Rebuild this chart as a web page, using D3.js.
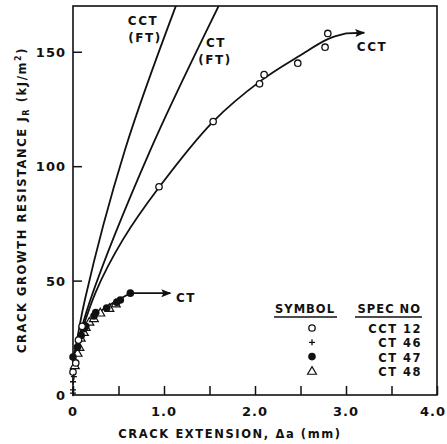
<!DOCTYPE html>
<html lang="en">
<head>
<meta charset="UTF-8">
<title>J-R curves</title>
<script src="https://cdn.jsdelivr.net/npm/d3@7"></script>
<style>
    body { margin: 0; background: white; }
    text { font-family: "DejaVu Sans", sans-serif; font-weight: bold; fill: #111; }
</style>
</head>
<body>
<svg id="chart" width="447" height="444"></svg>
<script>
// ---- data ----
const xTicks = [0, 1.0, 2.0, 3.0, 4.0];
const xMinorTicks = [0.5, 1.5, 2.5, 3.5];
const yTicks = [0, 50, 100, 150];

// fitted / blunting lines (crack extension mm, J kJ/m2)
const cctFT = [[0.02, 18], [0.13, 41.5], [0.57, 107], [1.13, 170], [1.25, 182]];
const ctFT = [[0.02, 18], [0.19, 41.5], [0.85, 107], [1.6, 170], [1.75, 182]];
const cctCurve = [[0.02, 18], [0.25, 45], [0.55, 68], [0.95, 91], [1.54, 119.5], [2.07, 137.5], [2.5, 148.5], [2.8, 155.5], [3.0, 158]];
const ctCurve = [[0.0, 17], [0.05, 22], [0.1, 28], [0.2, 33], [0.3, 36.5], [0.45, 40.5], [0.63, 44.5]];
const arrows = [[[3.0, 158], [3.2, 158.3]], [[0.63, 44.5], [1.07, 44.5]]];

// specimens
const cct12 = [[0.0, 10], [0.03, 14], [0.06, 24], [0.1, 30], [0.945, 91], [1.54, 119.5], [2.05, 136], [2.10, 140], [2.47, 145], [2.77, 152], [2.80, 158]];
const ct46 = [[0.0, 0.8], [0.0, 2.2], [0.0, 5.8], [0.01, 8]];
const ct47 = [[0.0, 16.6], [0.05, 21], [0.09, 26], [0.12, 29], [0.14, 30], [0.25, 36], [0.23, 34.5], [0.37, 38], [0.48, 40.5], [0.52, 41.5], [0.63, 44.5]];
const ct48 = [[0.02, 13], [0.05, 18.4], [0.07, 21], [0.085, 25], [0.12, 27.5], [0.14, 29.7], [0.18, 32], [0.23, 33.5], [0.3, 36], [0.4, 38], [0.47, 40]];

const legendSymbols = ["circle", "plus", "dot", "triangle"];
const legendNames = ["CCT 12", "CT 46", "CT 47", "CT 48"];

const svg = d3.select("#chart");
const plotLeft = 73, plotRight = 437, plotTop = 6, plotBottom = 395;

const x = d3.scaleLinear().domain([0, 4]).range([plotLeft, plotRight]);
const y = d3.scaleLinear().domain([0, 170]).range([plotBottom, plotTop]);

const defs = svg.append("defs");
defs.append("clipPath").attr("id", "plotClip")
    .append("rect").attr("x", plotLeft).attr("y", plotTop).attr("width", plotRight - plotLeft).attr("height", plotBottom - plotTop);
defs.append("marker")
    .attr("id", "arrow").attr("viewBox", "0 0 10 10").attr("refX", 9).attr("refY", 5)
    .attr("markerWidth", 14).attr("markerHeight", 10).attr("markerUnits", "userSpaceOnUse")
    .attr("orient", "auto")
    .append("path").attr("d", "M0,1 L10,5 L0,9 L2,5 Z").attr("fill", "#111");

// frame
svg.append("rect").attr("x", plotLeft).attr("y", plotTop).attr("width", plotRight - plotLeft).attr("height", plotBottom - plotTop)
    .attr("fill", "none").attr("stroke", "#111").attr("stroke-width", 1.6);

// axes with inward ticks
const xAxis = svg.append("g").attr("transform", `translate(0,${plotBottom})`)
    .call(d3.axisTop(x).tickValues(xTicks.concat(xMinorTicks)).tickSize(9).tickFormat(""));
xAxis.select(".domain").remove();
xAxis.selectAll("line").attr("stroke", "#111").attr("stroke-width", 1.5);

const yAxis = svg.append("g").attr("transform", `translate(${plotLeft},0)`)
    .call(d3.axisRight(y).tickValues(yTicks.slice(1)).tickSize(9).tickFormat(""));
yAxis.select(".domain").remove();
yAxis.selectAll("line").attr("stroke", "#111").attr("stroke-width", 1.5);

svg.selectAll(".xlab").data(xTicks).join("text")
    .attr("x", (d, i) => i === xTicks.length - 1 ? 446 : x(d)).attr("y", 416)
    .attr("text-anchor", (d, i) => i === xTicks.length - 1 ? "end" : "middle")
    .attr("font-size", 13).attr("letter-spacing", 1)
    .text(d => d === 0 ? "0" : d.toFixed(1));

svg.selectAll(".ylab").data(yTicks).join("text")
    .attr("x", 66).attr("y", d => y(d) + 5).attr("text-anchor", "end")
    .attr("font-size", 13).attr("letter-spacing", 1)
    .text(d => d);

svg.append("text").attr("x", 230).attr("y", 438).attr("text-anchor", "middle")
    .attr("font-size", 11.5).attr("letter-spacing", 1.6)
    .text("CRACK EXTENSION, \u0394a (mm)");

const yTitle = svg.append("text").attr("transform", "translate(26,200) rotate(-90)")
    .attr("text-anchor", "middle").attr("font-size", 11.5).attr("letter-spacing", 1.6);
yTitle.append("tspan").text("CRACK GROWTH RESISTANCE J");
yTitle.append("tspan").attr("font-size", 8).attr("dy", 3).text("R");
yTitle.append("tspan").attr("dy", -3).text(" (kJ/m");
yTitle.append("tspan").attr("font-size", 8).attr("dy", -5).text("2");
yTitle.append("tspan").attr("dy", 5).text(")");

// curves
const line = d3.line().x(d => x(d[0])).y(d => y(d[1])).curve(d3.curveCatmullRom.alpha(0.5));
const plot = svg.append("g").attr("clip-path", "url(#plotClip)");
[cctFT, ctFT, cctCurve, ctCurve].forEach(c => {
    plot.append("path").attr("d", line(c)).attr("fill", "none").attr("stroke", "#111").attr("stroke-width", 1.8);
});
arrows.forEach(a => {
    svg.append("path").attr("d", d3.line().x(d => x(d[0])).y(d => y(d[1]))(a))
        .attr("fill", "none").attr("stroke", "#111").attr("stroke-width", 1.8).attr("marker-end", "url(#arrow)");
});

// symbols
function drawSymbol(g, kind, px, py) {
    if (kind === "circle") {
        g.append("circle").attr("cx", px).attr("cy", py).attr("r", 3.2)
            .attr("fill", "white").attr("stroke", "#111").attr("stroke-width", 1.3);
    } else if (kind === "dot") {
        g.append("circle").attr("cx", px).attr("cy", py).attr("r", 3.8).attr("fill", "#111");
    } else if (kind === "plus") {
        g.append("path").attr("d", `M${px - 3},${py}H${px + 3}M${px},${py - 3}V${py + 3}`)
            .attr("stroke", "#111").attr("stroke-width", 1.3);
    } else {
        g.append("path").attr("d", d3.symbol(d3.symbolTriangle, 34)())
            .attr("transform", `translate(${px},${py + 0.8})`)
            .attr("fill", "white").attr("stroke", "#111").attr("stroke-width", 1.2);
    }
}
const pts = svg.append("g");
ct48.forEach(d => drawSymbol(pts, "triangle", x(d[0]), y(d[1])));
ct47.forEach(d => drawSymbol(pts, "dot", x(d[0]), y(d[1])));
cct12.forEach(d => drawSymbol(pts, "circle", x(d[0]), y(d[1])));
ct46.forEach(d => drawSymbol(pts, "plus", x(d[0]), y(d[1])));

// curve labels
const labels = [["CCT", 143, 25], ["(FT)", 145, 42], ["CT", 216, 47], ["(FT)", 215, 64], ["CCT", 372, 51], ["CT", 186, 302]];
labels.forEach(l => {
    svg.append("text").attr("x", l[1]).attr("y", l[2]).attr("text-anchor", "middle")
        .attr("font-size", 12).attr("letter-spacing", 1.5).text(l[0]);
});

// legend
const lg = svg.append("g");
lg.append("text").attr("x", 305).attr("y", 313).attr("text-anchor", "middle")
    .attr("font-size", 11.5).attr("letter-spacing", 1).text("SYMBOL");
lg.append("text").attr("x", 421).attr("y", 313).attr("text-anchor", "end")
    .attr("font-size", 11.5).attr("letter-spacing", 1).text("SPEC NO");
lg.append("line").attr("x1", 274).attr("x2", 337).attr("y1", 317).attr("y2", 317).attr("stroke", "#111").attr("stroke-width", 1.3);
lg.append("line").attr("x1", 355).attr("x2", 422).attr("y1", 317).attr("y2", 317).attr("stroke", "#111").attr("stroke-width", 1.3);
legendNames.forEach((n, i) => {
    const ry = 328 + i * 14.3;
    drawSymbol(lg, legendSymbols[i], 312, ry);
    lg.append("text").attr("x", 422).attr("y", ry + 5).attr("text-anchor", "end")
        .attr("font-size", 11.5).attr("letter-spacing", 1.5).text(n);
});
</script>
</body>
</html>
